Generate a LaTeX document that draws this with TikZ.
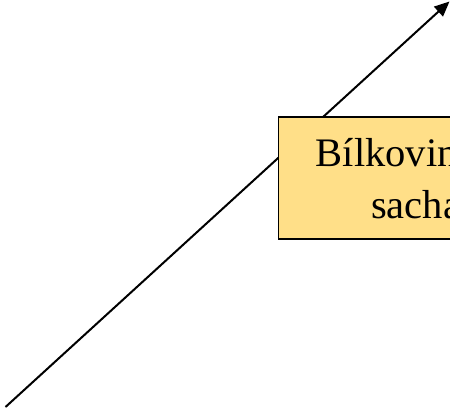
\documentclass[tikz,border=0pt]{standalone}
\usepackage{fontspec}
\setmainfont{Liberation Serif}
\usetikzlibrary{arrows.meta}
\definecolor{boxfill}{HTML}{FFDF88}
\tikzset{
  conn/.style={line width=2pt, -{Triangle[length=15pt,width=13pt]}},
  labelbox/.style={draw=black, line width=1.9pt, fill=boxfill, minimum width=300pt, minimum height=122pt, anchor=north west, inner sep=0pt},
  lbl/.style={font=\fontsize{40.5pt}{50pt}\selectfont, anchor=base west, inner sep=0pt}
}
\begin{document}
\begin{tikzpicture}[x=1pt,y=-1pt]
\useasboundingbox (0,0) rectangle (450,410);
\clip (0,0) rectangle (450,410);
\coordinate (start) at (5.5,407);
\coordinate (end) at (449.5,1.5);
\draw[conn] (start) -- (end);
\node[labelbox] (box) at (277.5,115.7) {};
\node[lbl] (l1) at (315.7,166.7) {Bílkoviny a};
\node[lbl] (l2) at (371,218.3) {sacharidy};
\end{tikzpicture}
\end{document}
